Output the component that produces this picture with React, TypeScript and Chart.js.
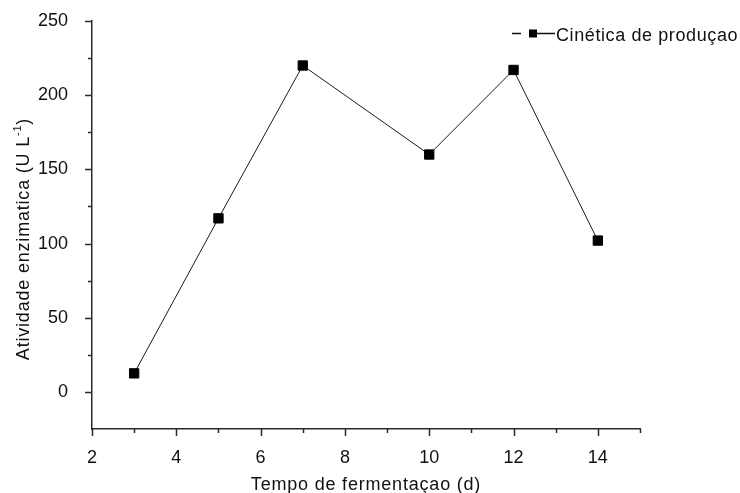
import React, { useEffect, useRef } from "react";
import { Chart, registerables } from "chart.js";

Chart.register(...registerables);

const days = [3, 5, 7, 10, 12, 14];
const activity = [12.5, 117, 220, 160, 217, 102];
const xTickValues = [2, 4, 6, 8, 10, 12, 14];
const yTickValues = [0, 50, 100, 150, 200, 250];
const seriesLabel = "Cinética de produçao";
const xTitle = "Tempo de fermentaçao (d)";
const yTitleMain = "Atividade enzimatica (U L";
const yTitleSup = "-1";
const yTitleEnd = ")";

const FONT = '"Liberation Sans", Arial, sans-serif';
const AXIS_COLOR = "#2a2a2a";
const TEXT_COLOR = "#111";

const decorPlugin = {
  id: "decor",
  afterDraw(chart: any) {
    const ctx = chart.ctx as CanvasRenderingContext2D;
    const xs = chart.scales.x;
    const ys = chart.scales.y;
    const area = chart.chartArea;
    ctx.save();
    ctx.strokeStyle = AXIS_COLOR;
    ctx.lineWidth = 1.5;
    for (let v = 2; v <= 15; v++) {
      const px = Math.round(xs.getPixelForValue(v)) + 0.5;
      const len = v % 2 === 0 ? 7 : 4;
      ctx.beginPath();
      ctx.moveTo(px, area.bottom);
      ctx.lineTo(px, area.bottom + len);
      ctx.stroke();
    }
    for (let v = 0; v <= 250; v += 25) {
      const py = Math.round(ys.getPixelForValue(v)) + 0.5;
      const len = v % 50 === 0 ? 7 : 4;
      ctx.beginPath();
      ctx.moveTo(area.left, py);
      ctx.lineTo(area.left - len, py);
      ctx.stroke();
    }

    ctx.fillStyle = TEXT_COLOR;
    (ctx as any).letterSpacing = "0.8px";
    ctx.font = `18px ${FONT}`;
    ctx.textBaseline = "alphabetic";

    ctx.textAlign = "center";
    ctx.fillText(xTitle, (area.left + area.right) / 2, 490);

    ctx.save();
    ctx.translate(29, 239);
    ctx.rotate(-Math.PI / 2);
    ctx.textAlign = "left";
    ctx.font = `18px ${FONT}`;
    const w1 = ctx.measureText(yTitleMain).width;
    ctx.font = `11px ${FONT}`;
    const w2 = ctx.measureText(yTitleSup).width;
    ctx.font = `18px ${FONT}`;
    const w3 = ctx.measureText(yTitleEnd).width;
    const x0 = -(w1 + w2 + w3) / 2;
    ctx.fillText(yTitleMain, x0, 0);
    ctx.font = `11px ${FONT}`;
    ctx.fillText(yTitleSup, x0 + w1, -8);
    ctx.font = `18px ${FONT}`;
    ctx.fillText(yTitleEnd, x0 + w1 + w2, 0);
    ctx.restore();

    const ly = 33.5;
    ctx.strokeStyle = "#111";
    ctx.lineWidth = 1.5;
    ctx.beginPath();
    ctx.moveTo(512, ly);
    ctx.lineTo(521, ly);
    ctx.moveTo(537, ly);
    ctx.lineTo(555, ly);
    ctx.stroke();
    ctx.fillStyle = "#000";
    ctx.fillRect(529, ly - 4, 8, 8);
    ctx.fillStyle = TEXT_COLOR;
    ctx.textAlign = "left";
    (ctx as any).letterSpacing = "0.6px";
    ctx.fillText(seriesLabel, 556, 41);
    ctx.restore();
  },
};

export default function App() {
  const canvasRef = useRef<HTMLCanvasElement | null>(null);

  useEffect(() => {
    document.body.style.margin = "0";
    const canvas = canvasRef.current;
    if (!canvas) return;
    const chart = new Chart(canvas, {
      type: "line",
      data: {
        datasets: [
          {
            label: seriesLabel,
            data: days.map((d, i) => ({ x: d, y: activity[i] })),
            borderColor: "#1a1a1a",
            borderWidth: 1,
            backgroundColor: "#000",
            pointStyle: "rect",
            pointRadius: 6.6,
            pointBorderWidth: 1,
            pointBorderColor: "#000",
            pointBackgroundColor: "#000",
            tension: 0,
          },
        ],
      },
      options: {
        responsive: false,
        devicePixelRatio: 1,
        animation: false,
        layout: { padding: { top: 21, right: 100, left: 0, bottom: 0 } },
        plugins: {
          legend: { display: false },
          tooltip: { enabled: false },
        },
        scales: {
          x: {
            type: "linear",
            min: 2,
            max: 15,
            grid: { display: false },
            border: { display: true, color: AXIS_COLOR, width: 1.5 },
            afterBuildTicks: (scale: any) => {
              scale.ticks = xTickValues.map((v) => ({ value: v }));
            },
            afterFit: (scale: any) => {
              scale.height = 64;
              scale.paddingLeft = 0;
              scale.paddingRight = 0;
            },
            ticks: {
              color: TEXT_COLOR,
              font: { family: FONT, size: 18 },
              padding: 10,
              maxRotation: 0,
              autoSkip: false,
              callback: (v: any) => String(v),
            },
          },
          y: {
            type: "linear",
            min: -25,
            max: 250,
            grid: { display: false },
            border: { display: true, color: AXIS_COLOR, width: 1.5 },
            afterBuildTicks: (scale: any) => {
              scale.ticks = yTickValues.map((v) => ({ value: v }));
            },
            afterFit: (scale: any) => {
              scale.width = 92;
              scale.paddingTop = 0;
              scale.paddingBottom = 0;
            },
            ticks: {
              color: TEXT_COLOR,
              font: { family: FONT, size: 18 },
              padding: 16,
              autoSkip: false,
              callback: (v: any) => String(v),
            },
          },
        },
      },
      plugins: [decorPlugin],
    });
    return () => chart.destroy();
  }, []);

  return (
    <div style={{ position: "absolute", left: 0, top: 0, width: 740, height: 493 }}>
      <canvas ref={canvasRef} width={740} height={493} />
    </div>
  );
}
